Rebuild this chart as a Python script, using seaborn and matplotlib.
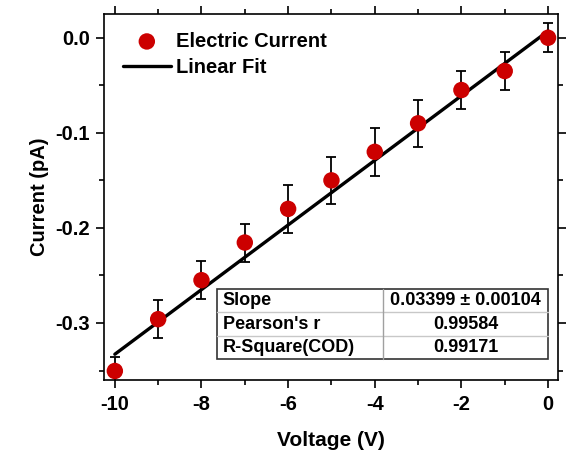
import numpy as np
import pandas as pd
import matplotlib
matplotlib.use("Agg")
import matplotlib.pyplot as plt
from matplotlib.ticker import MultipleLocator, FuncFormatter
from matplotlib.patches import Rectangle
import seaborn as sns

# ---- data ----
voltage = [-10, -9, -8, -7, -6, -5, -4, -3, -2, -1, 0]
current = [-0.3505, -0.296, -0.255, -0.2154, -0.180, -0.150, -0.120, -0.090, -0.055, -0.035, 0.0]
current_err = [0.015, 0.02, 0.02, 0.02, 0.025, 0.025, 0.025, 0.025, 0.02, 0.02, 0.015]
fit_slope = 0.03399
fit_intercept = 0.007
table_labels = ["Slope", "Pearson's r", "R-Square(COD)"]
table_values = ["0.03399 \u00b1 0.00104", "0.99584", "0.99171"]

sns.set_theme(style="ticks")
plt.rcParams['font.family'] = ['Liberation Sans', 'DejaVu Sans']
plt.rcParams['font.weight'] = 'bold'
plt.rcParams['axes.labelweight'] = 'bold'
plt.rcParams['text.color'] = 'black'
plt.rcParams['axes.labelcolor'] = 'black'
plt.rcParams['xtick.color'] = 'black'
plt.rcParams['ytick.color'] = 'black'

df = pd.DataFrame({"Voltage": voltage, "Current": current, "err": current_err})
fit_x = np.array([min(voltage), max(voltage)], dtype=float)
fit_df = pd.DataFrame({"Voltage": fit_x, "Current": fit_intercept + fit_slope * fit_x})

fig = plt.figure(figsize=(5.69, 4.51), dpi=100)
ax = fig.add_axes([0.1828, 0.1574, 0.7979, 0.8116])

ax.errorbar(df["Voltage"], df["Current"], yerr=df["err"], fmt="none",
            ecolor="black", elinewidth=1.3, capsize=3.5, capthick=1.3, zorder=2)
sns.lineplot(data=fit_df, x="Voltage", y="Current", color="black", linewidth=2.4,
             ax=ax, label="Linear Fit", zorder=3)
sns.scatterplot(data=df, x="Voltage", y="Current", color="#cc0000", s=140,
                edgecolor="none", ax=ax, label="Electric Current", zorder=4)

ax.xaxis.set_major_locator(MultipleLocator(2))
ax.xaxis.set_minor_locator(MultipleLocator(1))
ax.yaxis.set_major_locator(MultipleLocator(0.1))
ax.yaxis.set_minor_locator(MultipleLocator(0.05))
ax.xaxis.set_major_formatter(FuncFormatter(lambda v, p: f"{v:.0f}" if abs(v) > 1e-9 else "0"))
ax.yaxis.set_major_formatter(FuncFormatter(lambda v, p: f"{v:.1f}" if abs(v) > 1e-9 else "0.0"))
ax.set_xlim(-10.25, 0.23)
ax.set_ylim(-0.36, 0.025)

ax.tick_params(which="both", direction="out", left=True, bottom=True, top=True, right=True,
               labeltop=False, labelright=False, colors="black", labelsize=14.5)
ax.tick_params(which="major", length=6, width=1.2)
ax.tick_params(axis="x", which="major", pad=5)
ax.tick_params(axis="y", which="major", pad=4)
ax.tick_params(which="minor", length=3.5, width=1.2)
for lab in ax.get_xticklabels() + ax.get_yticklabels():
    lab.set_fontweight("bold")
for sp in ax.spines.values():
    sp.set_visible(True)
    sp.set_color("black")
    sp.set_linewidth(1.2)

ax.set_xlabel("Voltage (V)", fontsize=15, fontweight="bold", labelpad=12, color="black")
ax.set_ylabel("Current (pA)", fontsize=14.5, fontweight="bold", labelpad=5, color="black")

h, l = ax.get_legend_handles_labels()
order = [l.index("Electric Current"), l.index("Linear Fit")]
leg = ax.legend([h[i] for i in order], [l[i] for i in order], loc="upper left",
                frameon=False, fontsize=14.5, handlelength=2.4, handletextpad=0.25,
                borderaxespad=0.3, labelspacing=0.35, bbox_to_anchor=(0.01, 0.99))
for t in leg.get_texts():
    t.set_fontweight("bold")
    t.set_color("black")

# ---- stats table ----
x0, x1, y0, y1 = 0.249, 0.978, 0.0574, 0.2486
xs = 0.6145
nrows = len(table_labels)
rh = (y1 - y0) / nrows
for i, (lab, val) in enumerate(zip(table_labels, table_values)):
    yc = y1 - (i + 0.5) * rh
    ax.text(x0 + 0.012, yc, lab, transform=ax.transAxes, ha="left", va="center",
            fontsize=13, fontweight="bold", color="black", zorder=6)
    ax.text((xs + x1) / 2, yc, val, transform=ax.transAxes, ha="center", va="center",
            fontsize=13, fontweight="bold", color="black", zorder=6)
ax.add_patch(Rectangle((x0, y0), x1 - x0, y1 - y0, transform=ax.transAxes,
                       facecolor="white", edgecolor="#333333", linewidth=1.2, zorder=5))
for i in range(1, nrows):
    ax.plot([x0, x1], [y1 - i * rh] * 2, transform=ax.transAxes, color="#c8c8c8",
            linewidth=1.0, zorder=5.5)
ax.plot([xs, xs], [y0, y1], transform=ax.transAxes, color="#a0a0a0", linewidth=1.0, zorder=5.5)

fig.savefig("out.png", dpi=100)
